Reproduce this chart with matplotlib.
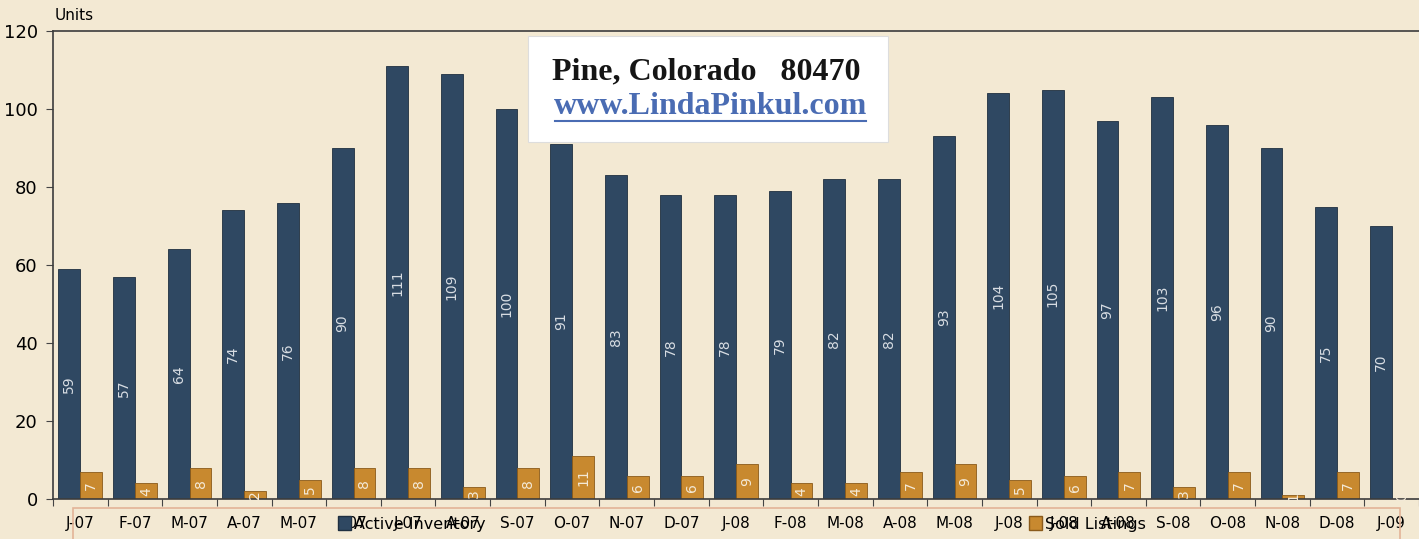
import numpy as np
import matplotlib
matplotlib.use("Agg")
import matplotlib.pyplot as plt
from matplotlib.patches import Rectangle, Patch

months = ["J-07", "F-07", "M-07", "A-07", "M-07", "J-07", "J-07", "A-07", "S-07", "O-07",
          "N-07", "D-07", "J-08", "F-08", "M-08", "A-08", "M-08", "J-08", "J-08", "A-08",
          "S-08", "O-08", "N-08", "D-08", "J-09"]
active = [59, 57, 64, 74, 76, 90, 111, 109, 100, 91, 83, 78, 78, 79, 82, 82, 93, 104, 105, 97,
          103, 96, 90, 75, 70]
sold = [7, 4, 8, 2, 5, 8, 8, 3, 8, 11, 6, 6, 9, 4, 4, 7, 9, 5, 6, 7, 3, 7, 1, 7, 0]

BG = "#f3e9d3"
NAVY = "#2f4862"
ORANGE = "#c8892f"

W, H = 1419, 539
fig = plt.figure(figsize=(W / 100, H / 100), dpi=100, facecolor=BG)
ax = fig.add_axes([53 / W, 40 / H, (W - 53) / W, 468 / H])
ax.set_facecolor(BG)

x = np.arange(len(months))
bw = 0.40
b1 = ax.bar(x - bw / 2, active, bw, color=NAVY, edgecolor="#1f2f40", linewidth=0.6,
            label="Active Inventory")
b2 = ax.bar(x + bw / 2, sold, bw, color=ORANGE, edgecolor="#8a5a1a", linewidth=0.6,
            label="Sold Listings")

for rect, v in zip(b1, active):
    ax.text(rect.get_x() + rect.get_width() / 2, v / 2, str(v), rotation=90,
            ha="center", va="center", color="#d8dde3", fontsize=10)
for rect, v in zip(b2, sold):
    ax.text(rect.get_x() + rect.get_width() / 2, max(v / 2, 0.6), str(v), rotation=90,
            ha="center", va="center", color="#f4ead8", fontsize=10)

ax.set_ylim(0, 120)
ax.set_yticks(range(0, 121, 20))
ax.tick_params(axis="y", labelsize=13, length=5, color="#444444", pad=6)
ax.set_xlim(-0.5, -0.5 + (W - 55) / 55.1)
ax.set_xticks(np.arange(len(months) + 1) - 0.5)
ax.set_xticklabels([])
ax.tick_params(axis="x", which="major", length=5, color="#444444")
ax.set_xticks(x, minor=True)
ax.set_xticklabels(months, minor=True, fontsize=11)
ax.tick_params(axis="x", which="minor", length=0, pad=12)

for s in ["left", "bottom", "top"]:
    ax.spines[s].set_color("#3c3c3c")
    ax.spines[s].set_linewidth(1.2)
ax.spines["right"].set_visible(False)

fig.text(55 / W, 1 - 15 / H, "Units", fontsize=11, ha="left", va="center")

# legend frame along the bottom (overlaps tick labels as in the original)
fig.patches.append(Rectangle((73 / W, -0.02), (1400 - 73) / W, (539 - 508) / H + 0.02,
                             transform=fig.transFigure, facecolor="none",
                             edgecolor="#e3b497", linewidth=1.2))
handles = [Patch(facecolor=NAVY, edgecolor="#1f2f40"), Patch(facecolor=ORANGE, edgecolor="#8a5a1a")]
fig.legend(handles, ["Active Inventory", "Sold Listings"], ncol=2, frameon=False,
           loc="center", bbox_to_anchor=(742 / W, 1 - 524 / H), fontsize=11.5,
           columnspacing=34, handlelength=0.8, handleheight=1.0, handletextpad=0.2)

# title box
fig.patches.append(Rectangle((528 / W, 1 - 142 / H), 360 / W, 106 / H,
                             transform=fig.transFigure, facecolor="white",
                             edgecolor="#dddddd", linewidth=0.8, zorder=5))
fig.text(706 / W, 1 - 72 / H, "Pine, Colorado   80470", family="Liberation Serif",
         weight="bold", fontsize=23, ha="center", va="center", color="#151515", zorder=6)
fig.text(710 / W, 1 - 106 / H, "www.LindaPinkul.com", family="Liberation Serif",
         weight="bold", fontsize=23, ha="center", va="center", color="#4a6cb3", zorder=6)
fig.lines.append(plt.Line2D([555 / W, 866 / W], [1 - 121 / H, 1 - 121 / H],
                            transform=fig.transFigure, color="#4a6cb3", linewidth=1.5, zorder=6))

fig.savefig("out.png", dpi=100, facecolor=BG)
